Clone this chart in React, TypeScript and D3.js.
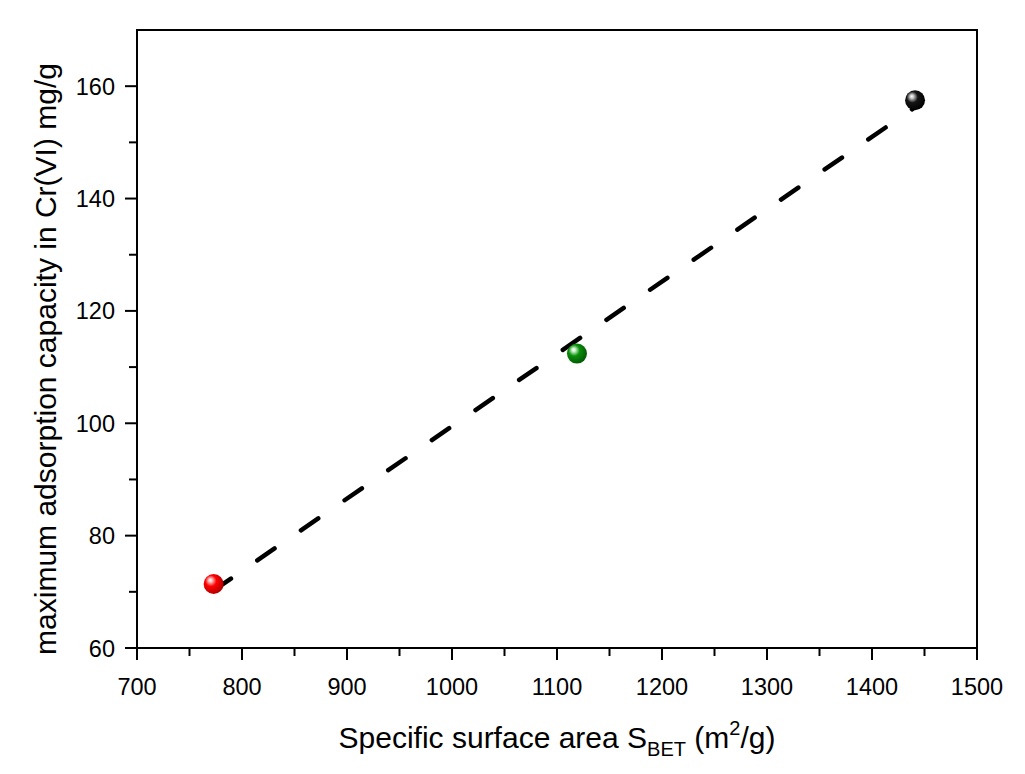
import React from "react";
import * as d3 from "d3";

const xTicks = [700, 800, 900, 1000, 1100, 1200, 1300, 1400, 1500];
const yTicks = [60, 80, 100, 120, 140, 160];
const surfaceArea = [773, 1119, 1441];
const capacity = [71.4, 112.4, 157.5];

const W = 1025, H = 774;
const M = { left: 137, right: 977, top: 30, bottom: 648 };

export default function App() {
  const x = d3.scaleLinear().domain([700, 1500]).range([M.left, M.right]);
  const y = d3.scaleLinear().domain([60, 170]).range([M.bottom, M.top]);

  // linear fit
  const n = surfaceArea.length;
  const mx = d3.mean(surfaceArea)!;
  const my = d3.mean(capacity)!;
  let sxy = 0, sxx = 0;
  for (let i = 0; i < n; i++) {
    sxy += (surfaceArea[i] - mx) * (capacity[i] - my);
    sxx += (surfaceArea[i] - mx) ** 2;
  }
  const slope = sxy / sxx;
  const icpt = my - slope * mx;
  const x0 = d3.min(surfaceArea)!, x1 = d3.max(surfaceArea)!;
  const fitLine = d3.line<number>().x((d) => x(d)).y((d) => y(icpt + slope * d))([x0, x1]);

  const minorX = d3.range(750, 1500, 100);
  const minorY = d3.range(70, 170, 20);
  const font = "'Liberation Sans', Arial, sans-serif";

  const grads = [
    { id: "gr", base: "#ff0000", dark: "#b00000", light: "#ffc0c0" },
    { id: "gg", base: "#0a900a", dark: "#045804", light: "#c8f0c8" },
    { id: "gk", base: "#151515", dark: "#000", light: "#c8c8c8" },
  ];

  return (
    <svg width={W} height={H} style={{ position: "absolute", left: 0, top: 0, background: "#fff" }}>
      <defs>
        {grads.map((g) => (
          <radialGradient key={g.id} id={g.id} cx="0.4" cy="0.4" r="0.62" fx="0.33" fy="0.3">
            <stop offset="0" stopColor="#fff" />
            <stop offset="0.15" stopColor={g.light} />
            <stop offset="0.45" stopColor={g.base} />
            <stop offset="1" stopColor={g.dark} />
          </radialGradient>
        ))}
      </defs>
      <rect x={0} y={0} width={W} height={H} fill="#fff" />
      {/* frame */}
      <rect x={M.left} y={M.top} width={M.right - M.left} height={M.bottom - M.top} fill="none" stroke="#000" strokeWidth={2} />
      {/* x ticks */}
      {xTicks.map((t) => (
        <g key={"xt" + t}>
          <line x1={x(t)} x2={x(t)} y1={M.bottom} y2={M.bottom + 12} stroke="#000" strokeWidth={2} />
          <text x={x(t)} y={M.bottom + 47} textAnchor="middle" fontFamily={font} fontSize={23.5}>{t}</text>
        </g>
      ))}
      {minorX.map((t) => (
        <line key={"xm" + t} x1={x(t)} x2={x(t)} y1={M.bottom} y2={M.bottom + 8} stroke="#000" strokeWidth={2} />
      ))}
      {yTicks.map((t) => (
        <g key={"yt" + t}>
          <line x1={M.left - 12} x2={M.left} y1={y(t)} y2={y(t)} stroke="#000" strokeWidth={2} />
          <text x={M.left - 22} y={y(t) + 8.5} textAnchor="end" fontFamily={font} fontSize={23.5}>{t}</text>
        </g>
      ))}
      {minorY.map((t) => (
        <line key={"ym" + t} x1={M.left - 8} x2={M.left} y1={y(t)} y2={y(t)} stroke="#000" strokeWidth={2} />
      ))}
      {/* fit line */}
      <path d={fitLine!} fill="none" stroke="#000" strokeWidth={4.5} strokeDasharray="21,32" strokeLinecap="round" />
      {/* points */}
      {surfaceArea.map((v, i) => (
        <circle key={"p" + i} cx={x(v)} cy={y(capacity[i])} r={10} fill={`url(#${grads[i].id})`} />
      ))}
      {/* axis titles */}
      <text x={557} y={748} textAnchor="middle" fontFamily={font} fontSize={30}>
        Specific surface area S<tspan fontSize={20} dy={8}>BET</tspan>
        <tspan dy={-8}> (m</tspan><tspan fontSize={20} dy={-13}>2</tspan><tspan dy={13}>/g)</tspan>
      </text>
      <text transform={`translate(56, 359) rotate(-90)`} textAnchor="middle" fontFamily={font} fontSize={30}>
        maximum adsorption capacity in Cr(VI) mg/g
      </text>
    </svg>
  );
}
